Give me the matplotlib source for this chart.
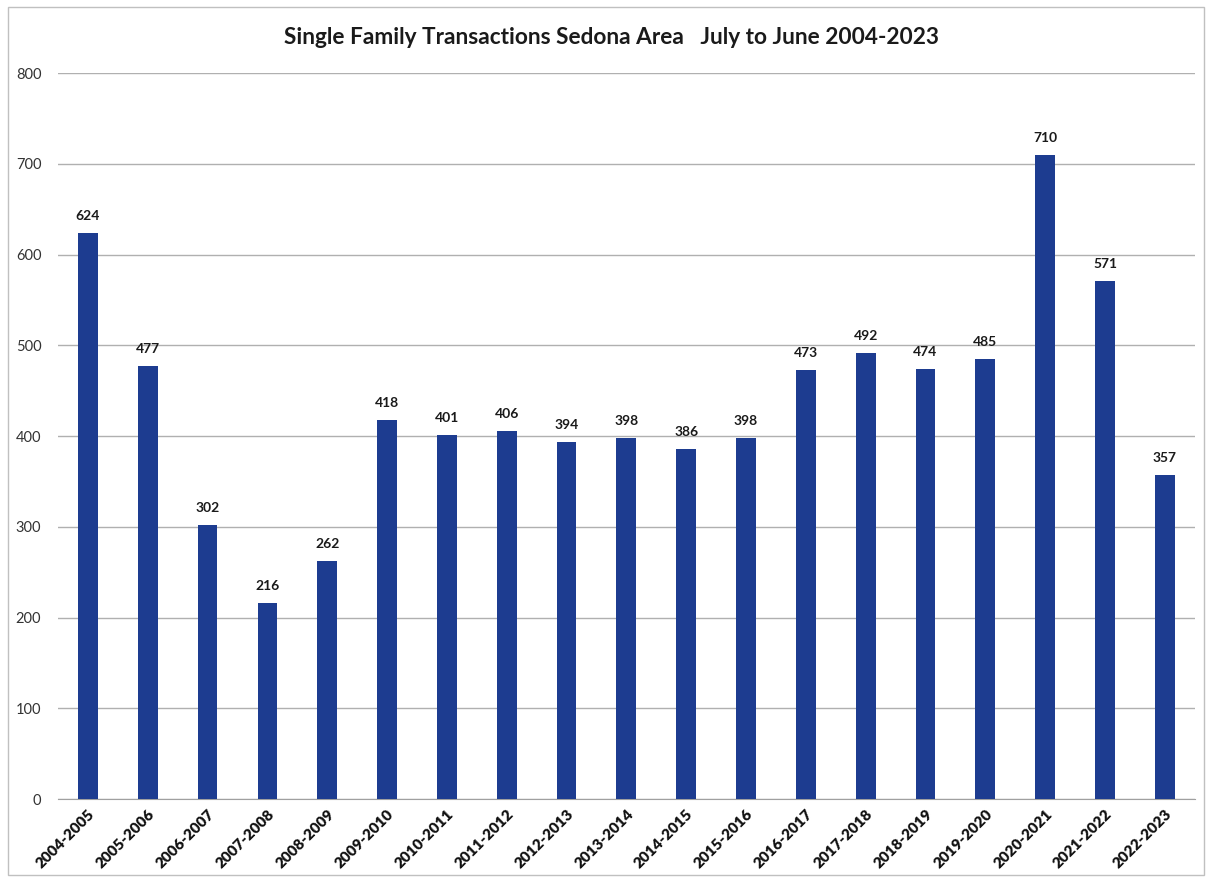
import numpy as np
import matplotlib.pyplot as plt
from matplotlib.patches import Rectangle

# July-to-June sales seasons and closed single family transactions
seasons = ['2004-2005', '2005-2006', '2006-2007', '2007-2008', '2008-2009',
           '2009-2010', '2010-2011', '2011-2012', '2012-2013', '2013-2014',
           '2014-2015', '2015-2016', '2016-2017', '2017-2018', '2018-2019',
           '2019-2020', '2020-2021', '2021-2022', '2022-2023']
sales = [624, 477, 302, 216, 262, 418, 401, 406, 394, 398,
         386, 398, 473, 492, 474, 485, 710, 571, 357]
yticks = [0, 100, 200, 300, 400, 500, 600, 700, 800]

plt.rcParams['font.family'] = ['Lato', 'DejaVu Sans']

fig = plt.figure(figsize=(12.08, 8.82), dpi=100)
ax = fig.add_axes([0.048, 0.094, 0.941, 0.823])

x = np.arange(len(seasons))
ax.bar(x, sales, width=0.33, color='#1D3C90', zorder=3)
for xi, v in zip(x, sales):
    ax.text(xi, v + 12, str(v), ha='center', va='bottom', fontsize=10,
            fontweight='bold', color='#1a1a1a')

ax.set_xlim(-0.5, 18.5)
ax.set_ylim(0, 800)
ax.set_yticks(yticks)
ax.set_yticklabels([str(t) for t in yticks], fontsize=10.5, color='#333333')
ax.yaxis.grid(True, color='#b0b0b0', linewidth=1, zorder=0)
ax.tick_params(axis='y', length=0, pad=12)
ax.set_xticks(x)
ax.set_xticklabels(seasons, rotation=45, ha='right', rotation_mode='anchor',
                   fontsize=11, fontweight='heavy', color='#111111')
ax.tick_params(axis='x', length=0, pad=6)
for s in ['top', 'right', 'left']:
    ax.spines[s].set_visible(False)
ax.spines['bottom'].set_color('#a0a0a0')

fig.text(0.506, 0.957, 'Single Family Transactions Sedona Area   July to June 2004-2023',
         ha='center', va='center', fontsize=16.3, fontweight='bold', color='#1a1a1a')

# thin frame round the chart area
fig.patches.append(Rectangle((0.007, 0.008), 0.990, 0.984, transform=fig.transFigure,
                             fill=False, edgecolor='#c0c0c0', linewidth=1))

fig.savefig('out.png', dpi=100, facecolor='white')
